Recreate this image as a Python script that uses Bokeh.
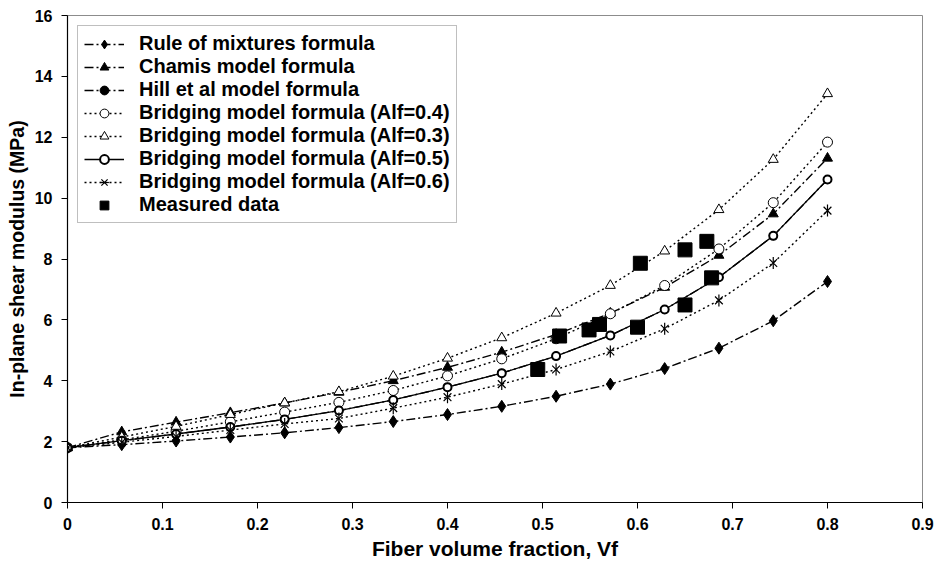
from bokeh.plotting import figure
from bokeh.models import Range1d, FixedTicker, Legend, LegendItem
from bokeh.embed import file_html
from bokeh.resources import INLINE
import numpy as np

# ---- data ----
vf = [0.0, 0.0571, 0.1143, 0.1714, 0.2286, 0.2857, 0.3429, 0.4, 0.4571, 0.5143,
      0.5714, 0.6286, 0.6857, 0.7429, 0.8]
rule_of_mixtures = [1.8, 1.90, 2.02, 2.15, 2.29, 2.46, 2.66, 2.89, 3.16, 3.49,
                    3.89, 4.40, 5.07, 5.97, 7.26]
chamis = [1.8, 2.32, 2.64, 2.95, 3.27, 3.62, 4.00, 4.44, 4.94, 5.52,
          6.22, 7.07, 8.12, 9.48, 11.31]
hill = [1.8, 2.03, 2.25, 2.48, 2.73, 3.02, 3.37, 3.79, 4.25, 4.81,
        5.49, 6.34, 7.40, 8.76, 10.61]
bridging_04 = [1.8, 2.06, 2.34, 2.65, 2.97, 3.29, 3.68, 4.16, 4.72, 5.38,
               6.20, 7.13, 8.33, 9.85, 11.84]
bridging_03 = [1.8, 2.15, 2.50, 2.89, 3.27, 3.64, 4.15, 4.74, 5.41, 6.22,
               7.13, 8.26, 9.62, 11.27, 13.43]
bridging_05 = [1.8, 2.03, 2.25, 2.48, 2.73, 3.02, 3.37, 3.79, 4.25, 4.81,
               5.49, 6.34, 7.40, 8.76, 10.61]
bridging_06 = [1.8, 1.98, 2.17, 2.38, 2.58, 2.76, 3.10, 3.46, 3.89, 4.37,
               4.96, 5.71, 6.64, 7.87, 9.59]
measured_vf = [0.495, 0.518, 0.549, 0.560, 0.600, 0.603, 0.650, 0.650, 0.673, 0.678]
measured_g = [4.37, 5.47, 5.67, 5.85, 5.76, 7.86, 6.49, 8.30, 8.58, 7.38]

x_ticks = [0, 0.1, 0.2, 0.3, 0.4, 0.5, 0.6, 0.7, 0.8, 0.9]
x_tick_labels = ["0", "0.1", "0.2", "0.3", "0.4", "0.5", "0.6", "0.7", "0.8", "0.9"]
y_ticks = [0, 2, 4, 6, 8, 10, 12, 14, 16]

FONT = "Liberation Sans"

p = figure(width=935, height=565, x_range=Range1d(0, 0.9), y_range=Range1d(0, 16),
           output_backend="svg", toolbar_location=None,
           min_border_left=67, min_border_right=13, min_border_top=15, min_border_bottom=63)
p.background_fill_color = "white"
p.border_fill_color = "white"
p.outline_line_color = "#8c8c8c"
p.outline_line_width = 1
p.xgrid.visible = False
p.ygrid.visible = False

for ax in (p.xaxis[0], p.yaxis[0]):
    ax.axis_line_color = "black"
    ax.axis_line_width = 1.2
    ax.major_tick_line_color = "black"
    ax.major_tick_in = 0
    ax.major_tick_out = 6
    ax.minor_tick_line_color = None
    ax.major_label_text_font = FONT
    ax.major_label_text_font_style = "bold"
    ax.major_label_text_font_size = "16px"
    ax.major_label_text_color = "black"
    ax.axis_label_text_font = FONT
    ax.axis_label_text_font_style = "bold"
    ax.axis_label_text_color = "black"

p.xaxis.axis_label_text_font_size = "21px"
p.yaxis.axis_label_text_font_size = "19.5px"
p.xaxis.ticker = FixedTicker(ticks=x_ticks)
p.xaxis.major_label_overrides = {t: l for t, l in zip(x_ticks, x_tick_labels)}
p.yaxis.ticker = FixedTicker(ticks=y_ticks)
p.xaxis.axis_label = "Fiber volume fraction, Vf"
p.yaxis.axis_label = "In-plane shear modulus (MPa)"
p.xaxis.major_label_standoff = 9
p.xaxis.axis_label_standoff = 4
p.yaxis.major_label_standoff = 9
p.yaxis.axis_label_standoff = 4

DASHDOT = "9 3 2 3"
DOT = "2 3"

items = []

def series(label, ys, dash, marker, fill, size, lw=1.4, mlw=1.0):
    r_line = p.line(vf, ys, line_color="black", line_width=lw, line_dash=dash)
    rs = [r_line]
    if marker == "asterisk6":
        rs.append(p.scatter(vf, ys, marker="x", size=size, line_color="black", line_width=mlw))
        rs.append(p.scatter(vf, ys, marker="dash", angle=np.pi / 2, size=size + 1,
                            line_color="black", line_width=mlw))
    else:
        rs.append(p.scatter(vf, ys, marker=marker, size=size, fill_color=fill,
                            line_color="black", line_width=mlw))
    items.append(LegendItem(label=label, renderers=rs))

series("Rule of mixtures formula", rule_of_mixtures, DASHDOT, "diamond", "black", 12)
series("Chamis model formula", chamis, DASHDOT, "triangle", "black", 10)
series("Hill et al model formula", hill, DASHDOT, "circle", "black", 8)
series("Bridging model formula (Alf=0.4)", bridging_04, DOT, "circle", "white", 10)
series("Bridging model formula (Alf=0.3)", bridging_03, DOT, "triangle", "white", 10)
series("Bridging model formula (Alf=0.5)", bridging_05, "solid", "circle", "white", 8, lw=1.3, mlw=2.0)
series("Bridging model formula (Alf=0.6)", bridging_06, DOT, "asterisk6", None, 11, mlw=1.2)

r_meas = p.scatter(measured_vf, measured_g, marker="square", size=14,
                   fill_color="black", line_color="black")
items.append(LegendItem(label="Measured data", renderers=[r_meas]))

legend = Legend(items=items, location="top_left")
legend.margin = 10
legend.padding = 6
legend.spacing = -1
legend.label_height = 22
legend.glyph_height = 22
legend.glyph_width = 40
legend.label_standoff = 15
legend.label_text_font = FONT
legend.label_text_font_style = "bold"
legend.label_text_font_size = "20px"
legend.label_text_color = "black"
legend.border_line_color = "#808080"
legend.border_line_width = 1
legend.background_fill_color = "white"
legend.background_fill_alpha = 1.0
p.add_layout(legend, "center")

open("out.html", "w").write(file_html(p, INLINE))
